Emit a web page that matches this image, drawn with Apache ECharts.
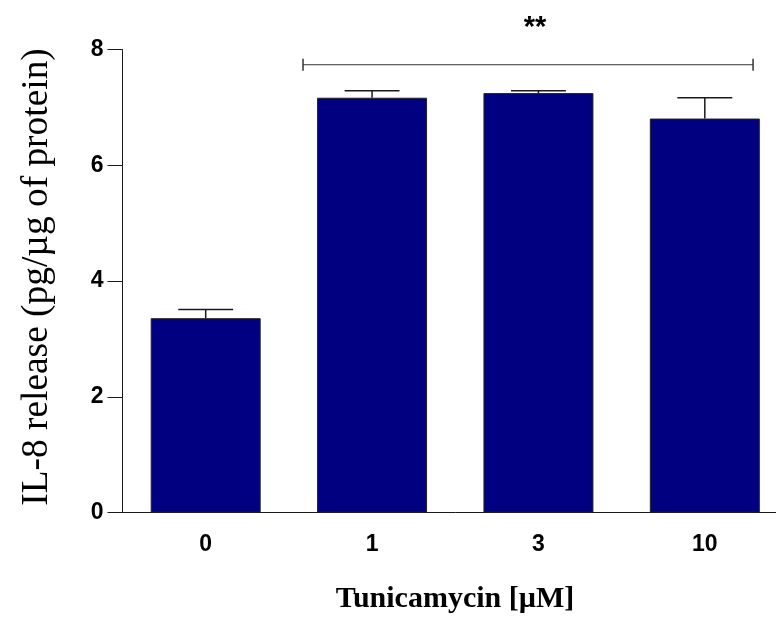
<!DOCTYPE html>
<html>
<head>
<meta charset="utf-8">
<script src="https://cdn.jsdelivr.net/npm/echarts@6/dist/echarts.min.js"></script>
<style>
  html, body { margin: 0; padding: 0; background: #fff; overflow: hidden; }
  /* the plot's right edge runs a little past the visible window */
  #chart { width: 788px; height: 617px; }
</style>
</head>
<body>
<div id="chart"></div>
<script>
// Tunicamycin doses (µM) and IL-8 release, mean ± SEM
const doses = ['0', '1', '3', '10'];
const il8Mean = [3.36, 7.17, 7.25, 6.81];
const il8Sem = [0.15, 0.12, 0.04, 0.36];
const yTicks = [0, 2, 4, 6, 8];

// Significance bracket spanning the treated groups
const sigFrom = 1;
const sigTo = 3;
const sigLevel = 7.74;
const sigLabel = '**';

const chart = echarts.init(document.getElementById('chart'), null, { renderer: 'canvas' });

const sans = 'Liberation Sans, Arial, sans-serif';
const serif = 'Liberation Serif, Times New Roman, serif';

const errorData = doses.map((d, i) => [i, il8Mean[i], il8Mean[i] + il8Sem[i]]);

chart.setOption({
  animation: false,
  grid: { left: 122.5, right: 0, top: 49.7, bottom: 104.4, containLabel: false },
  xAxis: {
    type: 'category',
    data: doses,
    axisLine: { lineStyle: { color: '#1a1a1a', width: 1 } },
    axisTick: { alignWithLabel: true, length: 15, lineStyle: { color: '#1a1a1a', width: 1 } },
    axisLabel: { margin: 21, fontFamily: sans, fontWeight: 'bold', fontSize: 23, color: '#000' },
    splitLine: { show: false }
  },
  yAxis: {
    type: 'value',
    min: yTicks[0],
    max: yTicks[yTicks.length - 1],
    interval: yTicks[1] - yTicks[0],
    axisLine: { show: true, lineStyle: { color: '#1a1a1a', width: 1 } },
    axisTick: { show: true, length: 15, lineStyle: { color: '#1a1a1a', width: 1 } },
    axisLabel: { margin: 19, fontFamily: sans, fontWeight: 'bold', fontSize: 23, color: '#000' },
    splitLine: { show: false }
  },
  graphic: [
    {
      type: 'text',
      x: 455,
      y: 599,
      style: {
        text: 'Tunicamycin [µM]', fontFamily: serif, fontWeight: 'bold', fontSize: 30, fill: '#000',
        align: 'center', verticalAlign: 'middle'
      }
    },
    {
      type: 'text',
      x: 37,
      y: 277,
      rotation: Math.PI / 2,
      style: {
        text: 'IL-8 release (pg/µg of protein)',
        fontFamily: serif, fontSize: 37.4, fill: '#000',
        align: 'center', verticalAlign: 'middle'
      }
    }
  ],
  series: [
    {
      type: 'bar',
      data: il8Mean,
      barWidth: 110,
      itemStyle: { color: '#000080', borderColor: '#222', borderWidth: 1 },
      z: 2
    },
    {
      // upper error whiskers with caps half the bar width
      type: 'custom',
      data: errorData,
      z: 3,
      renderItem: function (params, api) {
        const x = api.value(0);
        const top = api.coord([x, api.value(1)]);
        const hi = api.coord([x, api.value(2)]);
        const half = api.size([1, 0])[0] * 0.33 * 0.5;
        return {
          type: 'group',
          children: [
            { type: 'line', shape: { x1: top[0], y1: top[1], x2: hi[0], y2: hi[1] }, style: { stroke: '#1a1a1a', lineWidth: 1.5 } },
            { type: 'line', shape: { x1: hi[0] - half, y1: hi[1], x2: hi[0] + half, y2: hi[1] }, style: { stroke: '#1a1a1a', lineWidth: 1.5 } }
          ]
        };
      }
    },
    {
      // significance bracket and asterisks
      type: 'custom',
      data: [[sigFrom, sigTo, sigLevel]],
      clip: false,
      z: 4,
      renderItem: function (params, api) {
        const band = api.size([1, 0])[0];
        const a = api.coord([api.value(0), api.value(2)]);
        const b = api.coord([api.value(1), api.value(2)]);
        const x1 = a[0] - band * 0.415;
        const x2 = b[0] + band * 0.29;
        const y = a[1];
        return {
          type: 'group',
          children: [
            { type: 'line', shape: { x1: x1, y1: y, x2: x2, y2: y }, style: { stroke: '#333', lineWidth: 1 } },
            { type: 'line', shape: { x1: x1, y1: y - 6, x2: x1, y2: y + 6 }, style: { stroke: '#333', lineWidth: 1.5 } },
            { type: 'line', shape: { x1: x2, y1: y - 6, x2: x2, y2: y + 6 }, style: { stroke: '#333', lineWidth: 1.5 } },
            {
              type: 'text',
              x: (x1 + x2) / 2 + 7,
              y: y - 37,
              style: {
                text: sigLabel, fontFamily: sans, fontWeight: 'bold', fontSize: 29,
                fill: '#000', align: 'center', verticalAlign: 'middle'
              }
            }
          ]
        };
      }
    }
  ]
});
</script>
</body>
</html>
